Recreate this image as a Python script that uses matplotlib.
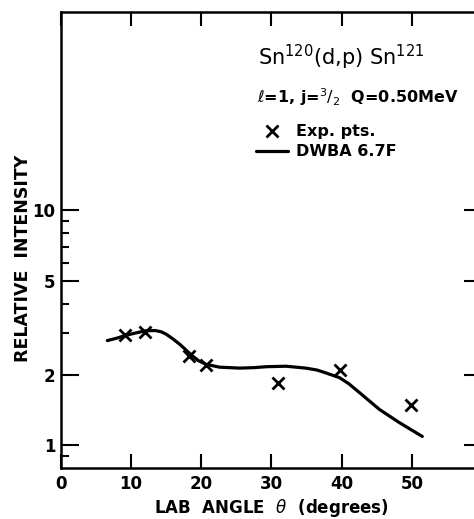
import matplotlib.pyplot as plt
from matplotlib.ticker import FixedLocator, NullFormatter

# measured points (lab angle in degrees, relative intensity)
exp_angle = [9.1, 12.0, 18.2, 20.7, 30.9, 39.7, 49.9]
exp_intensity = [2.95, 3.05, 2.41, 2.20, 1.84, 2.10, 1.49]

# DWBA curve
dwba_angle = [6.6, 8.0, 9.1, 10.5, 12.0, 13.4, 14.3, 15.0, 16.0, 17.0, 18.6, 19.6,
              20.7, 22.6, 25.5, 27.5, 29.3, 32.1, 34.9, 36.5, 37.8, 39.7, 41.0,
              42.5, 45.4, 48.2, 51.5]
dwba_intensity = [2.79, 2.86, 2.93, 3.00, 3.07, 3.08, 3.04, 2.97, 2.83, 2.68, 2.42,
                  2.29, 2.21, 2.15, 2.13, 2.14, 2.16, 2.17, 2.13, 2.09, 2.03, 1.94,
                  1.83, 1.68, 1.42, 1.25, 1.09]

y_major = [1, 2, 5, 10]
y_minor = [0.9, 3, 4, 6, 7, 8, 9]
x_ticks = [0, 10, 20, 30, 40, 50]

fig = plt.figure(figsize=(4.74, 5.19), dpi=100)
ax = fig.add_axes([0.1287, 0.0983, 0.888, 0.8786])

ax.plot(dwba_angle, dwba_intensity, color="black", lw=2.3, solid_capstyle="round",
        label="DWBA 6.7F")
ax.plot(exp_angle, exp_intensity, ls="none", marker="x", ms=8, mew=2,
        color="black", label="Exp. pts.")

ax.set_yscale("log")
ax.set_xlim(0, 60)
ax.set_ylim(0.8, 70)

ax.yaxis.set_major_locator(FixedLocator(y_major))
ax.set_yticklabels([str(v) for v in y_major])
ax.yaxis.set_minor_locator(FixedLocator(y_minor))
ax.yaxis.set_minor_formatter(NullFormatter())
ax.set_xticks(x_ticks)

ax.tick_params(axis="both", which="major", direction="in", length=13, width=1.5,
               labelsize=12, top=True, right=True)
ax.tick_params(axis="y", which="minor", direction="in", length=6, width=1.5,
               right=False)
ax.tick_params(axis="x", which="major", length=10, pad=5)
ax.tick_params(axis="y", pad=4)
for lab in ax.get_xticklabels() + ax.get_yticklabels():
    lab.set_fontweight("bold")

for sp in ax.spines.values():
    sp.set_linewidth(1.8)

ax.set_xlabel(r"LAB  ANGLE  $\theta$  (degrees)", fontsize=12, fontweight="bold",
              labelpad=0)
ax.xaxis.set_label_coords(0.5, -0.064)
ax.set_ylabel("RELATIVE  INTENSITY", fontsize=12.5, fontweight="bold")
ax.yaxis.set_label_coords(-0.07, 0.46)

# reaction info
ax.text(0.468, 0.901, r"Sn$^{120}$(d,p) Sn$^{121}$", transform=ax.transAxes,
        fontsize=15, va="center", ha="left")
ax.text(0.466, 0.814, r"$\ell$=1, j=$^{3}/_{2}$  Q=0.50MeV", transform=ax.transAxes,
        fontsize=11.5, va="center", ha="left", fontweight="bold")

handles, labels = ax.get_legend_handles_labels()
ax.legend(handles[::-1], labels[::-1], loc="upper left",
          bbox_to_anchor=(0.43, 0.785), frameon=False,
          handlelength=2.0, handletextpad=0.5, labelspacing=0.3,
          prop={"weight": "bold", "size": 11.5})

fig.savefig("out.png", dpi=100)
